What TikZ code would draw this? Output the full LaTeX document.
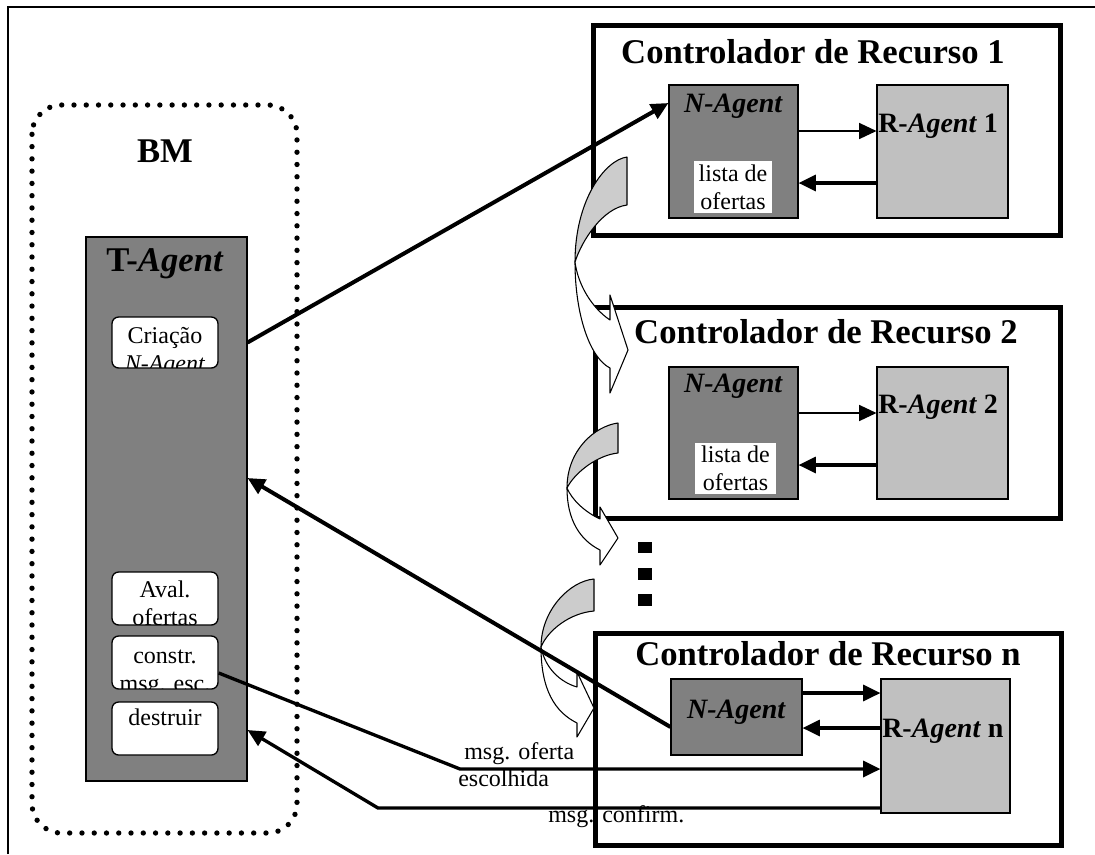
\documentclass[tikz,border=0pt]{standalone}
\usepackage{fontspec}
\setmainfont{Liberation Serif}
\usetikzlibrary{arrows.meta,fit,calc}
\definecolor{ngray}{RGB}{128,128,128}
\definecolor{rgray}{RGB}{192,192,192}
\definecolor{agray}{RGB}{204,204,204}
\begin{document}
\begin{tikzpicture}[x=0.75pt,y=-0.75pt,
  crbox/.style={draw, line width=3.75pt, inner sep=0pt},
  tbox/.style={draw, line width=0.8pt, fill=ngray, inner sep=0pt},
  nbox/.style={draw, line width=0.8pt, fill=ngray, inner sep=0pt},
  rbox/.style={draw, line width=0.8pt, fill=rgray, inner sep=0pt},
  ibox/.style={draw, line width=1pt, fill=white, rounded corners=5pt, inner sep=0pt},
  lbox/.style={fill=white, inner sep=0pt},
  bigtxt/.style={font=\bfseries\fontsize{26pt}{31pt}\selectfont, inner sep=0pt},
  agtxt/.style={font=\bfseries\fontsize{21pt}{25pt}\selectfont, inner sep=0pt},
  smalltxt/.style={font=\fontsize{18pt}{21pt}\selectfont, inner sep=0pt},
  thinarrow/.style={line width=1.1pt, -{Triangle[length=13pt,width=12pt]}},
  medarrow/.style={line width=2.3pt, -{Triangle[length=13pt,width=12pt]}},
  conn/.style={line width=3pt, -{Triangle[length=13pt,width=12pt]}},
  msgline/.style={line width=2.5pt},
  curvarrow/.style={draw, line width=0.8pt, line join=round}
]
\useasboundingbox (0,0) rectangle (1095,854);
% frame
\draw[line width=1.6pt] (8,854) -- (8,7) -- (1095,7);

% BM dotted box
\draw[line width=4pt, line cap=round, dash pattern=on 0pt off 9.2pt, rounded corners=22pt] (32,105) rectangle (297,833);
\node[bigtxt, anchor=base] (bm) at (165,162) {BM};

% T-Agent
\node[tbox, fit={(86,237)(247,781)}] (tag) {};
\node[bigtxt, anchor=base] (tagl) at (165,271) {T-\textit{Agent}};

\node[ibox, fit={(112,317)(218,368)}] (cria) {};
\begin{scope}
  \clip[rounded corners=5pt] (113,318) rectangle (217,367);
  \node[smalltxt, anchor=base] (cria1) at (165,343) {Criação};
  \node[smalltxt, anchor=base] (cria2) at (165,371) {\textit{N-Agent}};
\end{scope}
\node[ibox, fit={(112,572)(218,625)}] (aval) {};
\begin{scope}
  \clip[rounded corners=5pt] (113,573) rectangle (217,624);
  \node[smalltxt, anchor=base] (aval1) at (165,597) {Aval.};
  \node[smalltxt, anchor=base] (aval2) at (165,625) {ofertas};
\end{scope}
\node[ibox, fit={(112,636)(218,689)}] (constr) {};
\begin{scope}
  \clip[rounded corners=5pt] (113,637) rectangle (217,688);
  \node[smalltxt, anchor=base] (constr1) at (165,663) {constr.};
  \node[smalltxt, anchor=base] (constr2) at (165,691) {msg. esc.};
\end{scope}
\node[ibox, fit={(112,702)(218,755)}] (destr) {};
\node[smalltxt, anchor=base] (destr1) at (165,725) {destruir};

% Controlador 1
\node[crbox, fit={(593,25)(1060,235)}] (cr1) {};
\node[bigtxt, anchor=base] (cr1l) at (813,63) {Controlador de Recurso 1};
\node[nbox, fit={(669,85)(798,218)}] (na1) {};
\node[agtxt, anchor=base] (na1l) at (733.5,112) {\textit{N-Agent}};
\node[lbox, fit={(694,161)(772,213)}] (lista1) {};
\node[smalltxt, align=center] (lista1l) at (lista1.center) {lista de\\ofertas};
\node[rbox, fit={(877,85)(1008,218)}] (ra1) {};
\node[agtxt, anchor=base west] (ra1l) at (878,132) {R-\textit{Agent} 1};
\draw[thinarrow] (na1.east |- 0,131) -- (ra1.west |- 0,131);
\draw[medarrow] (ra1.west |- 0,183) -- (na1.east |- 0,183);

% Controlador 2
\node[crbox, fit={(595,307)(1060,518)}] (cr2) {};
\node[bigtxt, anchor=base] (cr2l) at (826,343) {Controlador de Recurso 2};
\node[nbox, fit={(669,367)(798,499)}] (na2) {};
\node[agtxt, anchor=base] (na2l) at (733.5,392) {\textit{N-Agent}};
\node[lbox, fit={(695,443)(776,494)}] (lista2) {};
\node[smalltxt, align=center] (lista2l) at (lista2.center) {lista de\\ofertas};
\node[rbox, fit={(877,367)(1008,499)}] (ra2) {};
\node[agtxt, anchor=base west] (ra2l) at (878,413) {R-\textit{Agent} 2};
\draw[thinarrow] (na2.east |- 0,413) -- (ra2.west |- 0,413);
\draw[medarrow] (ra2.west |- 0,465) -- (na2.east |- 0,465);

% dots
\fill (638,542) rectangle (652,553);
\fill (638,568) rectangle (652,580);
\fill (638,594) rectangle (652,606);

% Controlador n
\node[crbox, fit={(595,633)(1061,845)}] (crn) {};
\node[bigtxt, anchor=base] (crnl) at (828,665) {Controlador de Recurso n};
\node[nbox, fit={(671,679)(802,755)}] (nan) {};
\node[agtxt, anchor=base] (nanl) at (736.5,718) {\textit{N-Agent}};
\node[rbox, fit={(881,679)(1010,813)}] (ran) {};
\node[agtxt, anchor=base west] (ranl) at (882,737) {R-\textit{Agent} n};
\draw[medarrow] (nan.east |- 0,693) -- (ran.west |- 0,693);
\draw[medarrow] (ran.west |- 0,728) -- (nan.east |- 0,728);

% curved block arrows
% arrow 1
\filldraw[curvarrow, fill=white] (575,262) .. controls (578,285) and (592,308) .. (610,320)
  -- (610,295) -- (628,350) -- (610,393) -- (610,368)
  .. controls (590,358) and (575,315) .. (575,262) -- cycle;
\filldraw[curvarrow, fill=agray] (627,157) .. controls (605,160) and (575,200) .. (575,262)
  .. controls (582,240) and (603,208) .. (627,205) -- cycle;
% arrow 2
\filldraw[curvarrow, fill=white] (567,488) .. controls (572,500) and (585,512) .. (600,519)
  -- (600,507) -- (618,538) -- (600,565) -- (600,550)
  .. controls (580,540) and (567,520) .. (567,488) -- cycle;
\filldraw[curvarrow, fill=agray] (618,423) .. controls (595,426) and (567,450) .. (567,488)
  .. controls (575,472) and (598,455) .. (618,453) -- cycle;
% arrow 3
\filldraw[curvarrow, fill=white] (541,647) .. controls (545,668) and (560,682) .. (577,687)
  -- (577,672) -- (594,708) -- (577,737) -- (577,723)
  .. controls (555,712) and (541,690) .. (541,647) -- cycle;
\filldraw[curvarrow, fill=agray] (594,579) .. controls (570,581) and (541,610) .. (541,647)
  .. controls (548,630) and (570,613) .. (594,611) -- cycle;

% connectors
\draw[conn] (tag.east |- cria.east) -- (na1.west |- 0,103);
\draw[conn] (nan.west |- 0,727) -- (tag.east |- 0,478);
\coordinate (bendA) at (460,769);
\draw[msgline, -{Triangle[length=13pt,width=12pt]}] (constr.east |- 0,673) -- (bendA) -- (ran.west |- bendA);
\coordinate (bendB) at (378,808);
\draw[msgline, -{Triangle[length=13pt,width=12pt]}] (ran.west |- bendB) -- (bendB) -- (tag.east |- 0,730);

% labels
\node[smalltxt, anchor=base west] (lo1) at (464,759) {msg. oferta};
\node[smalltxt, anchor=base west] (lo2) at (458,786) {escolhida};
\node[smalltxt, anchor=base west] (lc) at (548,822) {msg. confirm.};
\end{tikzpicture}
\end{document}
